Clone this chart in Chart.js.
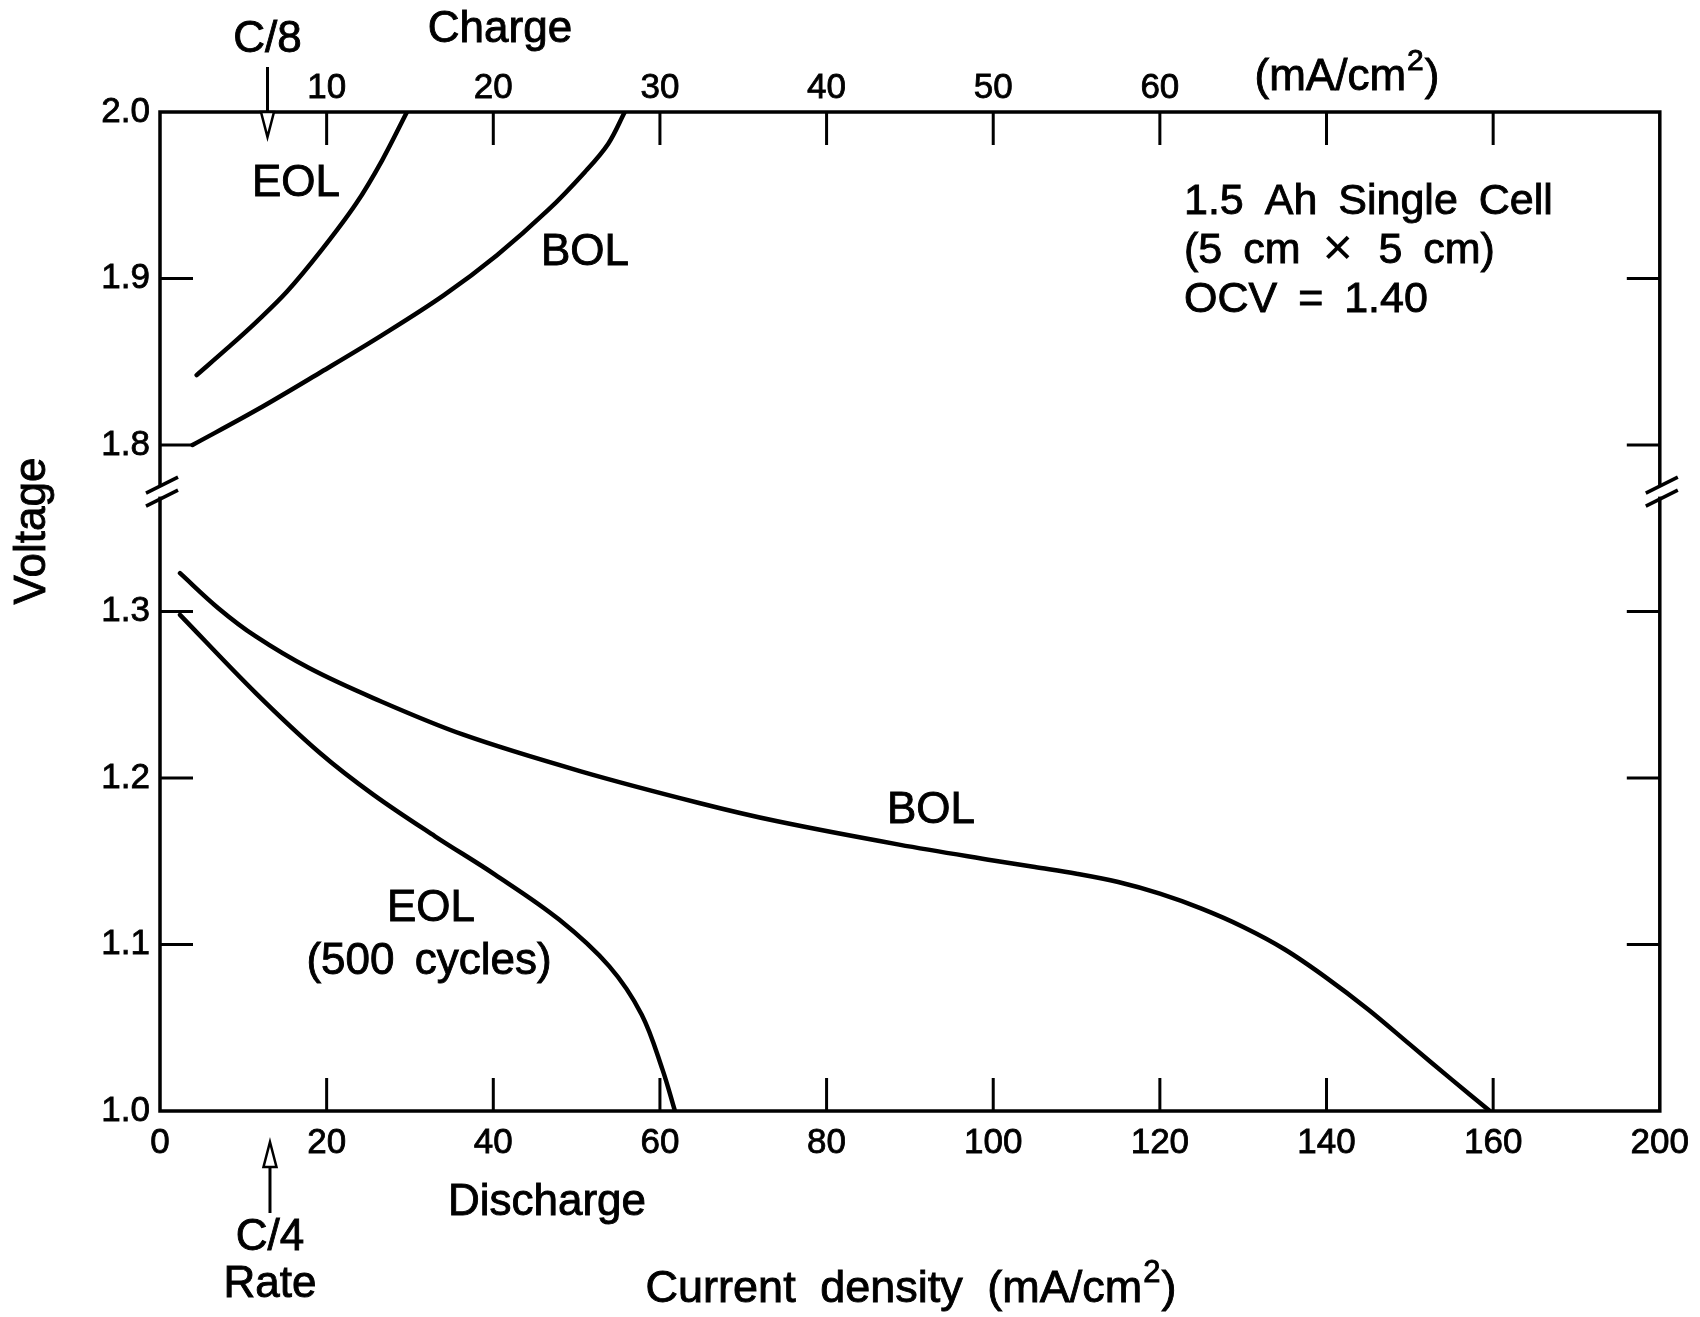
<!DOCTYPE html>
<html>
<head>
<meta charset="utf-8">
<title>1.5 Ah single cell — charge / discharge voltage</title>
<script src="https://cdn.jsdelivr.net/npm/chart.js@4.4.1/dist/chart.umd.min.js"></script>
<style>
  html, body { margin: 0; padding: 0; background: #fff; overflow: hidden; }
  canvas { display: block; }
</style>
</head>
<body>
<canvas id="cellChart" width="1700" height="1317"></canvas>
<script>
// Charge curves, read against the top axis (mA/cm2, charge scale)
const chargeEolX = [2.2, 4.03, 5.79, 7.61, 9.69, 11.77, 13.33, 14.82];
const chargeEolV = [1.842, 1.858, 1.874, 1.892, 1.917, 1.945, 1.971, 2.0];
const chargeBolX = [1.95, 5.79, 9.69, 13.33, 17.04, 20.22, 23.28, 25.5, 26.9, 27.89];
const chargeBolV = [1.800, 1.821, 1.844, 1.866, 1.890, 1.914, 1.941, 1.964, 1.981, 2.0];

// Discharge curves, read against the bottom axis
const dischargeBolX = [2.4, 7.0, 11.5, 17.9, 25.6, 36.4, 50.5, 64.7, 74.1, 88.7, 100, 105, 110, 115, 120, 125, 130, 135, 140, 145, 150, 155, 159.6];
const dischargeBolV = [1.323, 1.302, 1.285, 1.266, 1.248, 1.226, 1.204, 1.185, 1.174, 1.160, 1.1505, 1.1465, 1.1425, 1.1375, 1.1305, 1.1215, 1.1105, 1.097, 1.080, 1.061, 1.040, 1.019, 1.0];
const dischargeEolX = [2.4, 11.5, 19.2, 25.6, 33.0, 40.2, 47.9, 53.9, 57.8, 60.3, 61.8];
const dischargeEolV = [1.298, 1.251, 1.215, 1.190, 1.165, 1.142, 1.115, 1.087, 1.058, 1.025, 1.0];

// Axes (the voltage axis is broken between 1.3 and 1.8)
const breakShift = 0.4;          // 1.8 V is drawn one step above 1.3 V
const breakAt = 1.372;           // where the // marks sit (axis units)
const yTickValues = [1.0, 1.1, 1.2, 1.3, 1.4, 1.5, 1.6];
const yTickLabels = ['1.0', '1.1', '1.2', '1.3', '1.8', '1.9', '2.0'];
const yTickMarks = [1.1, 1.2, 1.3, 1.4, 1.5];

const xTickValues = [0, 20, 40, 60, 80, 100, 120, 140, 160, 180];
const xTickLabels = ['0', '20', '40', '60', '80', '100', '120', '140', '160', '200'];
const xTickMarks = [20, 40, 60, 80, 100, 120, 140, 160];

const topTickValues = [0, 10, 20, 30, 40, 50, 60, 70, 80, 90];
const topTickLabels = ['', '10', '20', '30', '40', '50', '60', '', '', ''];
const topTickMarks = [10, 20, 30, 40, 50, 60, 70, 80];

// C-rate markers
const chargeRateC8 = 6.45;     // on the charge axis
const dischargeRateC4 = 13.2;  // on the discharge axis

const FONT = '"Liberation Sans", Arial, Helvetica, sans-serif';

function toPoints(xs, vs, shift) {
    return xs.map((x, i) => ({ x: x, y: vs[i] - shift }));
}

function curve(label, xs, vs, shift, axis) {
    return {
        label,
        data: toPoints(xs, vs, shift),
        xAxisID: axis,
        yAxisID: 'y',
        borderColor: '#000',
        borderWidth: 4.5,
        pointRadius: 0,
        fill: false,
        showLine: true,
        tension: 0.35,
        borderCapStyle: 'round'
    };
}

// text with a thin outline so it is as heavy as the scanned lettering
function label(ctx, text, x, y, plain) {
    ctx.fillText(text, x, y);
    if (!plain) ctx.strokeText(text, x, y);
}

// left-aligned runs of text with their own size and vertical offset
function runs(ctx, parts, x, y) {
    ctx.textAlign = 'left';
    parts.forEach(p => {
        ctx.font = `${p.size}px ${FONT}`;
        label(ctx, p.t, x, y + (p.dy || 0), p.plain);
        x += ctx.measureText(p.t).width + (p.gap || 0);
    });
}

// "(mA/cm" + raised 2 + ")" centred on x
function unitLabel(ctx, prefix, x, y, size) {
    const parts = [
        { t: prefix, size, gap: 1 },
        { t: '2', size: Math.round(size * 0.68), dy: -size * 0.36, gap: 1 },
        { t: ')', size }
    ];
    let w = 0;
    parts.forEach(p => { ctx.font = `${p.size}px ${FONT}`; w += ctx.measureText(p.t).width + (p.gap || 0); });
    runs(ctx, parts, x - w / 2, y);
    ctx.textAlign = 'center';
}

/**
 * Frame, inward tick marks, axis breaks, arrows and the text labels
 */
const decorations = {
    id: 'decorations',
    afterDraw(chart) {
        const { ctx, chartArea: a, scales } = chart;
        const x = scales.x, x2 = scales.x2, y = scales.y;
        ctx.save();
        ctx.strokeStyle = '#000';
        ctx.fillStyle = '#000';
        ctx.lineCap = 'butt';

        // frame
        ctx.lineWidth = 3.5;
        ctx.strokeRect(a.left, a.top, a.right - a.left, a.bottom - a.top);

        // inward ticks
        const len = 33;
        ctx.lineWidth = 3;
        ctx.beginPath();
        xTickMarks.forEach(v => {
            const px = x.getPixelForValue(v);
            ctx.moveTo(px, a.bottom); ctx.lineTo(px, a.bottom - len);
        });
        topTickMarks.forEach(v => {
            const px = x2.getPixelForValue(v);
            ctx.moveTo(px, a.top); ctx.lineTo(px, a.top + len);
        });
        yTickMarks.forEach(v => {
            const py = y.getPixelForValue(v);
            ctx.moveTo(a.left, py); ctx.lineTo(a.left + len, py);
            ctx.moveTo(a.right, py); ctx.lineTo(a.right - len, py);
        });
        ctx.stroke();

        // axis breaks
        const pb = y.getPixelForValue(breakAt);
        [a.left + 2, a.right + 2].forEach(ax => {
            ctx.fillStyle = '#fff';
            ctx.fillRect(ax - 6, pb - 5, 8, 10);
            ctx.fillStyle = '#000';
            ctx.lineWidth = 3.5;
            ctx.beginPath();
            [-6.5, 6.5].forEach(off => {
                ctx.moveTo(ax - 16, pb + off + 8);
                ctx.lineTo(ax + 16, pb + off - 8);
            });
            ctx.stroke();
        });

        // C/8 arrow (charge) and C/4 arrow (discharge), open heads
        ctx.lineWidth = 3;
        const ax8 = x2.getPixelForValue(chargeRateC8);
        ctx.beginPath();
        ctx.moveTo(ax8, a.top - 45); ctx.lineTo(ax8, a.top);
        ctx.stroke();
        ctx.beginPath();
        ctx.moveTo(ax8 - 6.5, a.top); ctx.lineTo(ax8 + 6.5, a.top); ctx.lineTo(ax8, a.top + 25); ctx.closePath();
        ctx.fillStyle = '#fff'; ctx.fill(); ctx.lineWidth = 2.5; ctx.stroke();

        const ax4 = x.getPixelForValue(dischargeRateC4);
        ctx.lineWidth = 3;
        ctx.beginPath();
        ctx.moveTo(ax4, a.bottom + 56); ctx.lineTo(ax4, a.bottom + 102);
        ctx.stroke();
        ctx.beginPath();
        ctx.moveTo(ax4, a.bottom + 31); ctx.lineTo(ax4 + 6.5, a.bottom + 56); ctx.lineTo(ax4 - 6.5, a.bottom + 56); ctx.closePath();
        ctx.fillStyle = '#fff'; ctx.fill(); ctx.lineWidth = 2.5; ctx.stroke();

        // text
        ctx.fillStyle = '#000';
        ctx.lineWidth = 0.9;
        ctx.textBaseline = 'middle';
        ctx.textAlign = 'center';
        ctx.font = `44px ${FONT}`;
        if ('wordSpacing' in ctx) ctx.wordSpacing = '8px';
        label(ctx, 'C/8', ax8, 40);
        label(ctx, 'Charge', 500, 30);
        label(ctx, 'EOL', 296, 184);
        label(ctx, 'BOL', 585, 253);
        label(ctx, 'BOL', 931, 811);
        label(ctx, 'EOL', 431, 909);
        label(ctx, '(500 cycles)', 429, 962);
        label(ctx, 'Discharge', 547, 1203);
        label(ctx, 'C/4', ax4, 1238);
        label(ctx, 'Rate', ax4, 1285);
        unitLabel(ctx, '(mA/cm', 1347, 78, 44);
        if ('wordSpacing' in ctx) ctx.wordSpacing = '12px';
        unitLabel(ctx, 'Current density (mA/cm', 911, 1290, 45);

        if ('wordSpacing' in ctx) ctx.wordSpacing = '9px';
        runs(ctx, [{ t: '1.5 Ah Single Cell', size: 43 }], 1184, 202);
        runs(ctx, [
            { t: '(5 cm ', size: 43 },
            { t: '✕', size: 40, dy: 0, plain: true, gap: 2 },
            { t: ' 5 cm)', size: 43 }
        ], 1184, 251);
        runs(ctx, [{ t: 'OCV = 1.40', size: 43 }], 1184, 300);

        ctx.save();
        ctx.translate(33, 531);
        ctx.rotate(-Math.PI / 2);
        ctx.textAlign = 'center';
        ctx.font = `44px ${FONT}`;
        label(ctx, 'Voltage', 0, 0);
        ctx.restore();

        ctx.restore();
    }
};

const tickFont = { family: FONT, size: 35 };
const tickStyle = { color: '#000', font: tickFont, textStrokeColor: '#000', textStrokeWidth: 0.8, maxRotation: 0, autoSkip: false };

new Chart(document.getElementById('cellChart').getContext('2d'), {
    type: 'scatter',
    data: {
        datasets: [
            curve('Charge EOL', chargeEolX, chargeEolV, breakShift, 'x2'),
            curve('Charge BOL', chargeBolX, chargeBolV, breakShift, 'x2'),
            curve('Discharge BOL', dischargeBolX, dischargeBolV, 0, 'x'),
            curve('Discharge EOL', dischargeEolX, dischargeEolV, 0, 'x')
        ]
    },
    options: {
        responsive: false,
        animation: false,
        layout: { padding: 0 },
        plugins: { legend: { display: false }, tooltip: { enabled: false } },
        scales: {
            x: {
                type: 'linear', position: 'bottom', min: 0, max: 180,
                grid: { display: false, drawTicks: false }, border: { display: false },
                afterBuildTicks: s => { s.ticks = xTickValues.map(v => ({ value: v })); },
                ticks: { ...tickStyle, padding: 11, callback: v => xTickLabels[xTickValues.indexOf(v)] ?? '' },
                afterFit: s => { s.height = 206; }
            },
            x2: {
                type: 'linear', position: 'top', min: 0, max: 90,
                grid: { display: false, drawTicks: false }, border: { display: false },
                afterBuildTicks: s => { s.ticks = topTickValues.map(v => ({ value: v })); },
                ticks: { ...tickStyle, padding: 3, callback: v => topTickLabels[topTickValues.indexOf(v)] ?? '' },
                afterFit: s => { s.height = 112; }
            },
            y: {
                type: 'linear', position: 'left', min: 1.0, max: 1.6,
                grid: { display: false, drawTicks: false }, border: { display: false },
                afterBuildTicks: s => { s.ticks = yTickValues.map(v => ({ value: v })); },
                ticks: { ...tickStyle, padding: 10, callback: (v, i) => yTickLabels[i] },
                afterFit: s => { s.width = 160; }
            },
            y2: {
                type: 'linear', position: 'right', min: 1.0, max: 1.6,
                grid: { display: false, drawTicks: false }, border: { display: false },
                ticks: { display: false },
                afterFit: s => { s.width = 39; }
            }
        }
    },
    plugins: [decorations]
});
</script>
</body>
</html>
